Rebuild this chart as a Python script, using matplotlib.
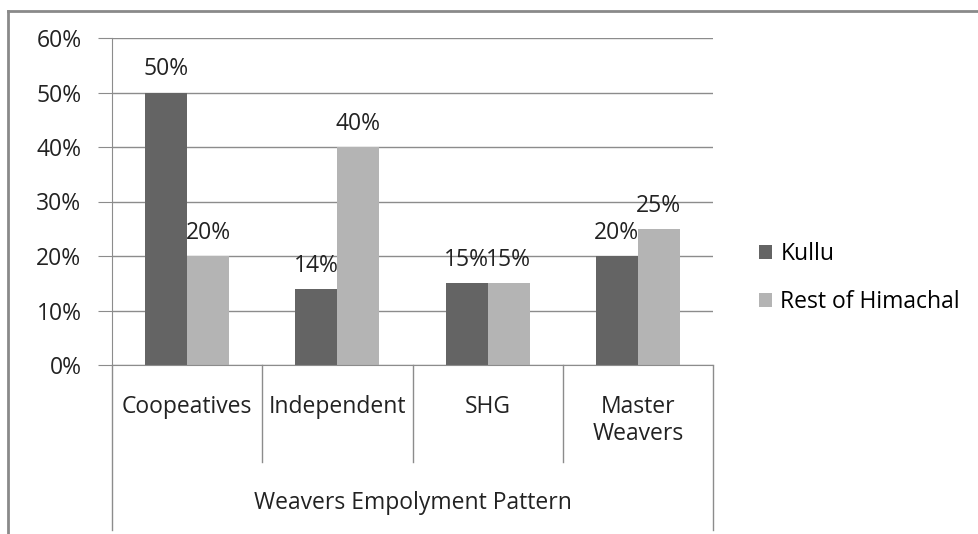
import numpy as np
import matplotlib as mpl
mpl.use("Agg")

import matplotlib.pyplot as plt
from matplotlib.lines import Line2D
from matplotlib.transforms import blended_transform_factory

mpl.rcParams['font.family'] = ['Open Sans', 'DejaVu Sans']
mpl.rcParams['font.size'] = 16.5

categories = ['Coopeatives', 'Independent', 'SHG', 'Master\nWeavers']
kullu      = [0.50, 0.14, 0.15, 0.20]
rest       = [0.20, 0.40, 0.15, 0.25]
yticks     = [0.0, 0.1, 0.2, 0.3, 0.4, 0.5, 0.6]
group_name = 'Weavers Empolyment Pattern'

dark  = '#646464'
light = '#b4b4b4'
grid  = '#8c8c8c'
text  = '#222222'

fig = plt.figure(figsize=(9.79, 5.34), dpi=100)
W, H = 979, 534
ax = fig.add_axes([112/W, 1 - 365/H, (713 - 112)/W, (365 - 38)/H])

x = np.arange(len(categories))
bw = 0.28
b1 = ax.bar(x - bw/2, kullu, bw, color=dark, label='Kullu')
b2 = ax.bar(x + bw/2, rest, bw, color=light, label='Rest of Himachal')

for bars, vals in ((b1, kullu), (b2, rest)):
    for b, v in zip(bars, vals):
        ax.annotate('%d%%' % round(v*100), (b.get_x() + b.get_width()/2, v),
                    xytext=(0, 8), textcoords='offset points',
                    ha='center', va='bottom', color=text)

ax.set_xlim(-0.5, len(categories) - 0.5)
ax.set_ylim(0, 0.6)
ax.set_yticks(yticks)
ax.set_yticklabels(['%d%%' % round(t*100) for t in yticks], color=text)
ax.yaxis.grid(True, color=grid, linewidth=1)
ax.set_axisbelow(True)
ax.tick_params(axis='y', length=10, color=grid, pad=12)
ax.tick_params(axis='x', length=0)
ax.set_xticks([])

for s in ('top', 'right'):
    ax.spines[s].set_visible(False)
ax.spines['left'].set_color(grid)
ax.spines['bottom'].set_color(grid)

# two-level category axis under the bars
tr = blended_transform_factory(ax.transData, ax.transAxes)
low = (365 - 462) / 327
bottom = (365 - 530) / 327
for i in range(1, len(categories)):
    ax.add_line(Line2D([i - 0.5, i - 0.5], [0, low], transform=tr,
                       color=grid, lw=1, clip_on=False))
for xe in (-0.5, len(categories) - 0.5):
    ax.add_line(Line2D([xe, xe], [0, bottom], transform=tr,
                       color=grid, lw=1, clip_on=False))
for i, c in enumerate(categories):
    ax.text(i, (365 - 395) / 327, c, transform=tr, ha='center', va='top',
            color=text, linespacing=1.15)
ax.text((len(categories) - 1) / 2, (365 - 503) / 327, group_name,
        transform=tr, ha='center', va='center', color=text)

ax.legend(loc='center left', bbox_to_anchor=(738/W, 1 - 278/H),
          bbox_transform=fig.transFigure, frameon=False,
          handlelength=0.6, handleheight=0.6, handletextpad=0.35,
          labelspacing=1.05)

# chart frame
fig.add_artist(Line2D([8/W, 1], [1 - 11/H, 1 - 11/H], color='#8a8a8a', lw=2))
fig.add_artist(Line2D([8/W, 8/W], [0, 1 - 11/H], color='#8a8a8a', lw=2))

plt.savefig('out.png')
